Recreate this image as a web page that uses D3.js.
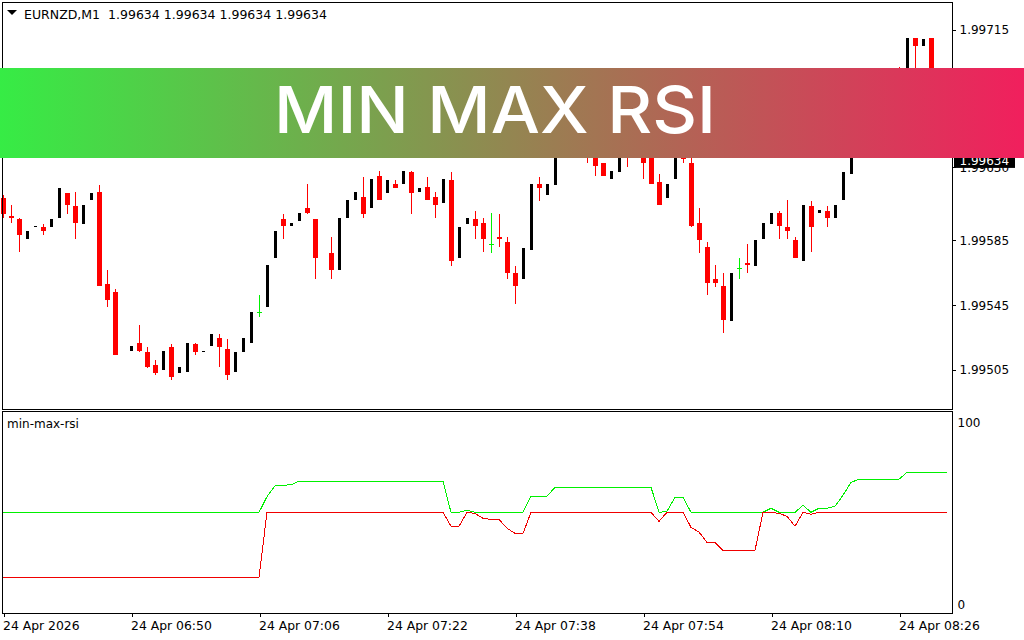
<!DOCTYPE html>
<html>
<head>
<meta charset="utf-8">
<script src="https://cdn.jsdelivr.net/npm/d3@7"></script>
<style>
  html, body { margin: 0; padding: 0; background: #fff; }
  svg { display: block; }
  .lbl text, text.lbl { font-family: "DejaVu Sans", sans-serif; font-size: 12px; fill: #000; }
</style>
</head>
<body>
<div id="chart"></div>
<script>
// candles, one entry per minute, null = no bar visible (hidden or missing)
const opens = [1.99611,1.99600,1.99598,1.99586,1.99593,1.99593,1.99593,1.99599,1.99614,1.99606,
  1.99595,1.99610,1.99615,1.99558,1.99553,null,1.99517,1.99522,1.99516,1.99508,
  1.99505,1.99519,1.99503,1.99504,1.99521,1.99516,1.99520,1.99525,1.99518,1.99504,
  1.99516,1.99522,1.99541,1.99544,1.99574,1.99598,1.99594,1.99597,1.99605,1.99598,
  null,1.99577,1.99567,1.99599,1.99610,1.99612,1.99605,1.99625,1.99614,1.99620,
  1.99620,1.99627,1.99615,1.99618,1.99612,1.99608,1.99622,1.99574,1.99595,1.99598,
  1.99596,1.99583,1.99587,1.99584,1.99565,1.99561,1.99579,1.99620,1.99613,1.99619,
  null,null,null,1.99647,1.99640,1.99633,1.99623,1.99627,1.99645,null,
  1.99650,1.99645,1.99621,1.99611,1.99623,1.99640,1.99633,1.99596,1.99581,1.99561,
  1.99557,1.99535,1.99568,1.99571,1.99569,1.99586,1.99595,1.99602,1.99593,1.99585,
  1.99572,1.99606,1.99602,1.99603,1.99599,1.99610,1.99626,null,null,null,
  null,null,1.99680,1.99670,1.99710,1.99705,1.99710];
const highs = [1.99613,1.99607,1.99599,1.99591,1.99594,1.99595,1.99598,1.99617,1.99614,1.99615,
  1.99607,1.99614,1.99619,1.99567,1.99555,null,1.99520,1.99533,1.99519,1.99511,
  1.99517,1.99521,1.99507,1.99522,1.99522,1.99517,1.99527,1.99527,1.99524,1.99516,
  1.99525,1.99541,1.99551,1.99570,1.99591,1.99601,1.99596,1.99602,1.99620,1.99598,
  null,1.99587,1.99599,1.99610,1.99615,1.99624,1.99623,1.99628,1.99622,1.99622,
  1.99628,1.99628,1.99617,1.99624,1.99615,1.99623,1.99627,1.99593,1.99599,1.99603,
  1.99599,1.99602,1.99601,1.99587,1.99569,1.99580,1.99620,1.99624,1.99620,1.99647,
  null,null,null,1.99650,1.99645,1.99633,1.99628,1.99645,1.99648,null,
  1.99652,1.99650,1.99626,1.99620,1.99640,1.99645,1.99640,1.99605,1.99584,1.99570,
  1.99565,1.99565,1.99574,1.99583,1.99585,1.99596,1.99602,1.99603,1.99610,1.99587,
  1.99607,1.99609,1.99604,1.99606,1.99607,1.99627,1.99659,null,null,null,
  null,null,1.99692,1.99710,1.99710,1.99709,1.99710];
const lows = [1.99599,1.99596,1.99578,1.99586,1.99593,1.99588,1.99593,1.99599,1.99601,1.99586,
  1.99595,1.99610,1.99557,1.99544,1.99514,null,1.99517,1.99516,1.99506,1.99502,
  1.99505,1.99499,1.99503,1.99504,1.99514,1.99516,1.99520,1.99507,1.99499,1.99504,
  1.99516,1.99522,1.99538,1.99544,1.99574,1.99586,1.99594,1.99597,1.99601,1.99561,
  null,1.99561,1.99567,1.99599,1.99610,1.99599,1.99605,1.99610,1.99614,1.99617,
  1.99620,1.99601,1.99615,1.99610,1.99599,1.99608,1.99569,1.99574,1.99595,1.99586,
  1.99578,1.99577,1.99581,1.99561,1.99546,1.99561,1.99579,1.99609,1.99613,1.99619,
  null,null,null,1.99633,1.99625,1.99625,1.99623,1.99627,1.99630,null,
  1.99623,1.99620,1.99607,1.99611,1.99623,1.99633,1.99593,1.99577,1.99551,1.99556,
  1.99528,1.99535,1.99561,1.99565,1.99569,1.99586,1.99595,1.99586,1.99586,1.99574,
  1.99572,1.99578,1.99602,1.99593,1.99599,1.99610,1.99626,null,null,null,
  null,null,1.99670,1.99670,1.99670,1.99705,1.99660];
const closes = [1.99601,1.99599,1.99588,1.99591,1.99594,1.99591,1.99598,1.99617,1.99607,1.99596,
  1.99607,1.99614,1.99557,1.99548,1.99514,null,1.99520,1.99517,1.99507,1.99503,
  1.99517,1.99501,1.99507,1.99522,1.99516,1.99517,1.99527,1.99519,1.99502,1.99516,
  1.99525,1.99541,1.99541,1.99570,1.99591,1.99594,1.99596,1.99602,1.99602,1.99574,
  null,1.99567,1.99599,1.99610,1.99615,1.99601,1.99623,1.99610,1.99622,1.99617,
  1.99628,1.99614,1.99617,1.99610,1.99607,1.99623,1.99572,1.99593,1.99599,1.99594,
  1.99586,1.99583,1.99586,1.99565,1.99557,1.99580,1.99620,1.99617,1.99620,1.99647,
  null,null,null,1.99638,1.99631,1.99625,1.99628,1.99645,1.99637,null,
  1.99633,1.99620,1.99607,1.99620,1.99640,1.99635,1.99594,1.99585,1.99559,1.99559,
  1.99536,1.99565,1.99568,1.99570,1.99585,1.99596,1.99602,1.99594,1.99591,1.99574,
  1.99607,1.99593,1.99604,1.99599,1.99607,1.99627,1.99659,null,null,null,
  null,null,1.99675,1.99710,1.99705,1.99709,1.99665];

// indicator lines, bar 0 to bar 118
const rsiGreen = [50,50,50,50,50,50,50,50,50,50,50,50,50,50,50,50,50,50,50,50,50,50,50,50,50,50,50,50,50,50,50,50,50,
  58.6,64.5,64.9,65.2,
  67.1,67.1,67.1,67.1,67.1,67.1,67.1,67.1,67.1,67.1,67.1,67.1,67.1,67.1,67.1,67.1,67.1,67.1,67.1,
  50,50,51.1,50,50,50,50,50,50,50,
  58.8,58.8,58.8,
  63.8,63.8,63.8,63.8,63.8,63.8,63.8,63.8,63.8,63.8,63.8,63.8,63.8,
  50,50.5,58.3,58.3,
  50,50,50,50,50,50,50,50,50,50,
  52.2,50,50,50,53.8,50,52.2,52.2,53.3,59.4,66.5,
  68.2,68.2,68.2,68.2,68.2,68.2,
  72,72,72,72,72,72];
const rsiRed = [14.1,14.1,14.1,14.1,14.1,14.1,14.1,14.1,14.1,14.1,14.1,14.1,14.1,14.1,14.1,14.1,14.1,14.1,14.1,14.1,14.1,14.1,14.1,14.1,14.1,14.1,14.1,14.1,14.1,14.1,14.1,14.1,14.1,
  50,50,50,50,50,50,50,50,50,50,50,50,50,50,50,50,50,50,50,50,50,50,50,
  42.3,42.3,50,49.4,46.7,46.1,46.1,41.2,38.4,38.4,
  50,50,50,50,50,50,50,50,50,50,50,50,50,50,50,50,
  45,50,50,50,41.7,39.1,33.4,33.4,
  29,29,29,29,29,
  50,50,49.4,47.8,42.3,50,48.9,
  50,50,50,50,50,50,50,50,50,50,50,50,50,50,50,50,50];

const timeTicks = [0,16,32,48,64,80,96,112];
const timeLabels = ['24 Apr 2026','24 Apr 06:50','24 Apr 07:06','24 Apr 07:22','24 Apr 07:38','24 Apr 07:54','24 Apr 08:10','24 Apr 08:26'];
const priceTicks = [1.99715,1.99675,1.9963,1.99585,1.99545,1.99505];
const rsiTicks = [0,100];
const lastPrice = 1.99634;
const titleText = 'MIN MAX RSI';
const headerText = 'EURNZD,M1  1.99634 1.99634 1.99634 1.99634';
const paneText = 'min-max-rsi';

const width = 1024, height = 640;
const left = 2.5, right = 952.5;
const mainTop = 2.5, mainBottom = 409.5;
const subTop = 411.5, subBottom = 613.5;

const svg = d3.select('#chart').append('svg')
  .attr('width', width).attr('height', height)
  .attr('viewBox', [0, 0, width, height]);

const x = d3.scaleLinear().domain([0, 118]).range([3, 947]);
const y = d3.scaleLinear().domain([1.99481, 1.99732]).range([409, 2]);
const yRsi = d3.scaleLinear().domain([0, 100]).range([603, 421.6]);

const candles = opens.map((o, i) => ({ i, o, h: highs[i], l: lows[i], c: closes[i] }))
  .filter(d => d.o !== null);
const kind = d => d.c > d.o ? 'up' : d.c < d.o ? 'down' : 'flat';
const px = v => Math.round(y(v));

// up bars are solid black, no wick
const g = svg.append('g').attr('shape-rendering', 'crispEdges');
g.selectAll('rect.up').data(candles.filter(d => kind(d) === 'up')).join('rect')
  .attr('class', 'up')
  .attr('x', d => x(d.i) - 1)
  .attr('width', 3)
  .attr('y', d => px(d.c))
  .attr('height', d => Math.max(px(d.o) - px(d.c), 1))
  .attr('fill', '#000');

g.selectAll('rect.wick').data(candles.filter(d => kind(d) === 'down')).join('rect')
  .attr('class', 'wick')
  .attr('x', d => x(d.i))
  .attr('width', 1)
  .attr('y', d => px(d.h))
  .attr('height', d => px(d.l) - px(d.h))
  .attr('fill', '#f00');
g.selectAll('rect.down').data(candles.filter(d => kind(d) === 'down')).join('rect')
  .attr('class', 'down')
  .attr('x', d => x(d.i) - 2)
  .attr('width', 5)
  .attr('y', d => px(d.o))
  .attr('height', d => Math.max(px(d.c) - px(d.o), 1))
  .attr('fill', '#f00');

// doji bars in green
const flats = candles.filter(d => kind(d) === 'flat');
g.selectAll('rect.fwick').data(flats).join('rect')
  .attr('class', 'fwick')
  .attr('x', d => x(d.i))
  .attr('width', 1)
  .attr('y', d => px(d.h))
  .attr('height', d => px(d.l) - px(d.h))
  .attr('fill', '#00f000');
g.selectAll('rect.fbar').data(flats).join('rect')
  .attr('class', 'fbar')
  .attr('x', d => x(d.i) - 2)
  .attr('width', 5)
  .attr('y', d => px(d.c))
  .attr('height', 1)
  .attr('fill', '#00f000');

// indicator pane
const line = d3.line().x((d, i) => x(i)).y(d => yRsi(d));
svg.append('path').datum(rsiGreen).attr('d', line)
  .attr('fill', 'none').attr('stroke', '#00f000').attr('stroke-width', 1).attr('shape-rendering', 'crispEdges');
svg.append('path').datum(rsiRed).attr('d', line)
  .attr('fill', 'none').attr('stroke', '#f00000').attr('stroke-width', 1).attr('shape-rendering', 'crispEdges');

// pane frames
svg.append('rect').attr('x', left).attr('y', mainTop)
  .attr('width', right - left).attr('height', mainBottom - mainTop)
  .attr('fill', 'none').attr('stroke', '#000').attr('shape-rendering', 'crispEdges');
svg.append('rect').attr('x', left).attr('y', subTop)
  .attr('width', right - left).attr('height', subBottom - subTop)
  .attr('fill', 'none').attr('stroke', '#000').attr('shape-rendering', 'crispEdges');

// time axis
const xAxis = svg.append('g').attr('class', 'lbl')
  .attr('transform', `translate(0.5,${subBottom})`)
  .call(d3.axisBottom(x).tickValues(timeTicks)
    .tickFormat((d, i) => timeLabels[i]).tickSize(3).tickSizeOuter(0));
xAxis.select('.domain').remove();
xAxis.selectAll('line').attr('stroke', '#000').attr('shape-rendering', 'crispEdges');
xAxis.selectAll('text').attr('text-anchor', 'start').attr('x', -1).attr('y', 8).attr('dy', '0.71em')
  .style('font-size', '12.4px');

// price axis
const yAxis = svg.append('g').attr('class', 'lbl')
  .attr('transform', `translate(${right},0)`)
  .call(d3.axisRight(y).tickValues(priceTicks).tickFormat(d3.format('.5f')).tickSize(3).tickPadding(3));
yAxis.select('.domain').remove();
yAxis.selectAll('line').attr('stroke', '#000').attr('shape-rendering', 'crispEdges');
yAxis.selectAll('text').attr('x', 7);

// last price tag
svg.append('rect').attr('x', 954).attr('y', y(lastPrice) - 7)
  .attr('width', 61).attr('height', 14).attr('fill', '#000');
svg.append('text').attr('class', 'lbl').style('fill', '#fff')
  .attr('x', 959.5).attr('y', y(lastPrice)).attr('dy', '0.35em').text(d3.format('.5f')(lastPrice));

// indicator scale
const rsiAxis = svg.append('g').attr('class', 'lbl')
  .attr('transform', `translate(${right},0)`)
  .call(d3.axisRight(yRsi).tickValues(rsiTicks).tickSize(0));
rsiAxis.select('.domain').remove();
rsiAxis.selectAll('text').attr('x', 5).attr('y', d => d === 0 ? 2 : 1);

// headers
svg.append('path').attr('d', 'M7,10 L17,10 L12,15 Z').attr('fill', '#000');
svg.append('text').attr('class', 'lbl').attr('x', 24).attr('y', 19)
  .attr('textLength', 303).attr('lengthAdjust', 'spacingAndGlyphs')
  .style('white-space', 'pre').text(headerText);
svg.append('text').attr('class', 'lbl').attr('x', 7).attr('y', 428).text(paneText);

// banner on top of everything
const grad = svg.append('defs').append('linearGradient').attr('id', 'banner');
grad.append('stop').attr('offset', '0%').attr('stop-color', '#36ec45');
grad.append('stop').attr('offset', '100%').attr('stop-color', '#f11f5d');
svg.append('rect').attr('x', 0).attr('y', 68).attr('width', width).attr('height', 90)
  .attr('fill', 'url(#banner)');
svg.append('text')
  .attr('x', 274).attr('y', 132.7)
  .attr('textLength', 442).attr('lengthAdjust', 'spacingAndGlyphs')
  .style('font-family', 'Inter, sans-serif').style('font-weight', 500)
  .style('font-size', '65px').style('fill', '#fff')
  .text(titleText);
</script>
</body>
</html>
